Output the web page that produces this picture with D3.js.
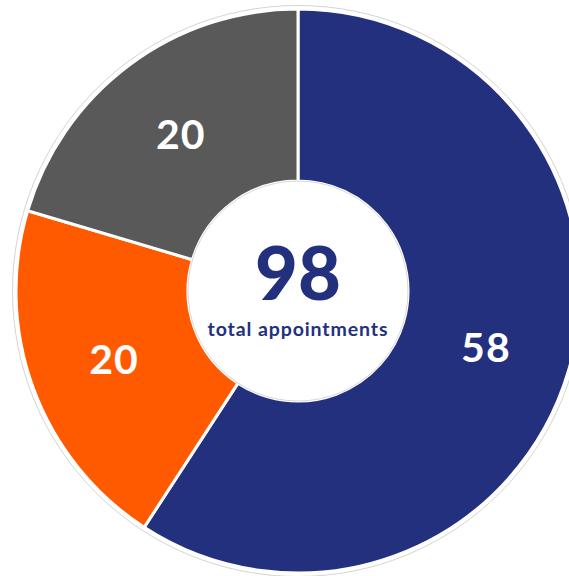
<!DOCTYPE html>
<html><head><meta charset="utf-8">
<script src="https://cdn.jsdelivr.net/npm/d3@7"></script>
<style>html,body{margin:0;padding:0;background:#fff;}svg{display:block;}</style>
</head><body>
<script>
const categories = ["A", "B", "C"];
const values = [58, 20, 20];
const colors = ["#23307E", "#FF5A00", "#595959"];
const centerValue = "98";
const centerLabel = "total appointments";

const W = 569, H = 576, cx = 298, cy = 291;
const rOuter = 282, rInner = 110;
const svg = d3.select("body").append("svg").attr("width", W).attr("height", H);
const g = svg.append("g").attr("transform", `translate(${cx},${cy})`);

g.append("circle").attr("r", rOuter + 3.5).attr("fill", "none").attr("stroke", "#d4d4d4").attr("stroke-width", 1);

const pie = d3.pie().sort(null).value(d => d)(values);
const arc = d3.arc().innerRadius(rInner).outerRadius(rOuter);
const labelArc = d3.arc().innerRadius(rInner).outerRadius(rOuter);

g.selectAll("path.slice").data(pie).join("path")
  .attr("class", "slice").attr("d", arc)
  .attr("fill", (d, i) => colors[i])
  .attr("stroke", "#fff").attr("stroke-width", 3).attr("stroke-linejoin", "round");

g.append("circle").attr("r", rInner).attr("fill", "#fff").attr("stroke", "#d8d8d8").attr("stroke-width", 1);

g.selectAll("text.lbl").data(pie).join("text")
  .attr("class", "lbl")
  .attr("transform", d => { const c = labelArc.centroid(d); return `translate(${c[0]},${c[1]})`; })
  .attr("text-anchor", "middle").attr("dominant-baseline", "central")
  .attr("font-family", "Lato, 'DejaVu Sans', sans-serif").attr("font-weight", 700)
  .attr("font-size", 41).attr("letter-spacing", 1).attr("fill", "#fff")
  .text(d => d.data);

g.append("text").attr("x", 0).attr("y", 9).attr("text-anchor", "middle")
  .attr("font-family", "Lato, 'DejaVu Sans', sans-serif").attr("font-weight", 900)
  .attr("font-size", 74).attr("fill", "#23307E").text(centerValue);
g.append("text").attr("x", 0).attr("y", 45).attr("text-anchor", "middle")
  .attr("font-family", "Lato, 'DejaVu Sans', sans-serif").attr("font-weight", 700)
  .attr("font-size", 19.5).attr("letter-spacing", 0.9).attr("fill", "#23307E").text(centerLabel);
</script>
</body></html>
